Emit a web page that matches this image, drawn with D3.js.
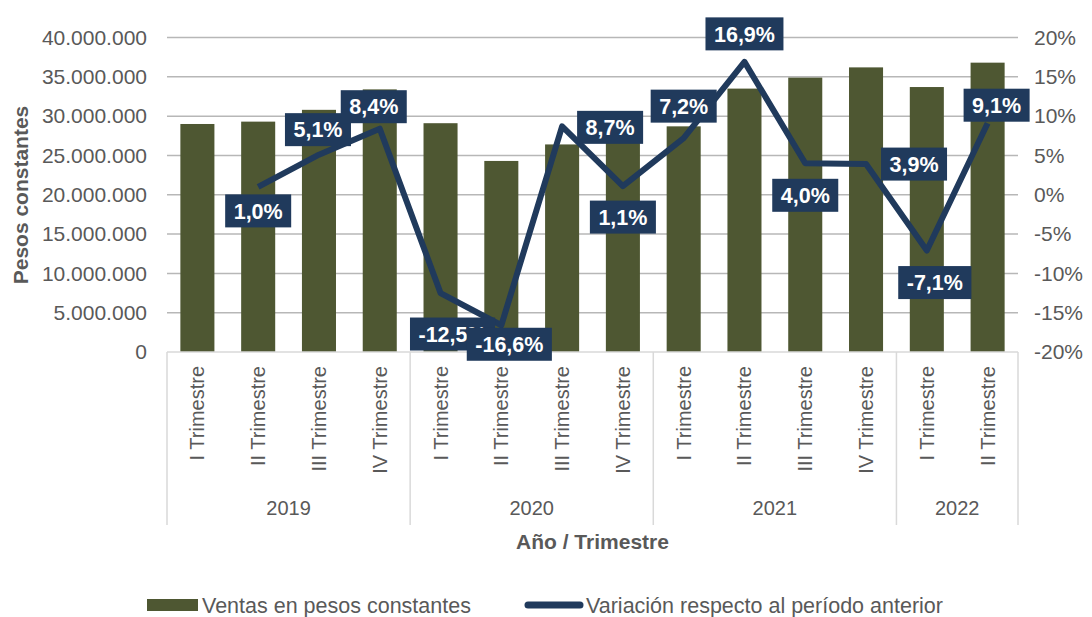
<!DOCTYPE html>
<meta charset="utf-8">
<style>
body { margin: 0; background: #fff; font-family: "Liberation Sans", Arial, Helvetica, sans-serif; }
.grid line { stroke: #b7b7b7; stroke-width: 1.5; }
.tick-label { fill: #595959; font-size: 21px; }
.cat-label { fill: #595959; font-size: 20px; }
.year-label { fill: #595959; font-size: 20px; }
.axis-title { fill: #595959; font-size: 21px; font-weight: bold; }
.legend text { fill: #595959; font-size: 21.5px; }
.dlabel text { fill: #fff; font-size: 21.5px; font-weight: bold; }
</style>
<body>
<script src="https://cdn.jsdelivr.net/npm/d3@7"></script>
<script>

// chart data
var years = ["2019", "2020", "2021", "2022"];
var periodYear = ["2019", "2019", "2019", "2019", "2020", "2020", "2020", "2020",
                  "2021", "2021", "2021", "2021", "2022", "2022"];
var periodQuarter = ["I Trimestre", "II Trimestre", "III Trimestre", "IV Trimestre",
                     "I Trimestre", "II Trimestre", "III Trimestre", "IV Trimestre",
                     "I Trimestre", "II Trimestre", "III Trimestre", "IV Trimestre",
                     "I Trimestre", "II Trimestre"];
var ventas = [29.0e6, 29.3e6, 30.8e6, 33.4e6, 29.1e6, 24.3e6, 26.4e6, 26.7e6,
              28.7e6, 33.5e6, 34.9e6, 36.2e6, 33.7e6, 36.8e6];
var variacion = [null, 1.0, 5.1, 8.4, -12.5, -16.6, 8.7, 1.1, 7.2, 16.9, 4.0, 3.9, -7.1, 9.1];
var leftTicks = [0, 5e6, 10e6, 15e6, 20e6, 25e6, 30e6, 35e6, 40e6];
var rightTicks = [-20, -15, -10, -5, 0, 5, 10, 15, 20];

// where each data label box sits, relative to its point (Excel put them by hand)
var labelOffset = [null, [0, 24], [-1, -25], [-6, -22], [12, 41], [8, 19], [48, 1],
                   [0, 31], [0, -32], [0, -28], [0, 32], [48, 0], [8, 32], [9, -18]];

var width = 1092, height = 617;
var plotLeft = 167, plotRight = 1018, plotTop = 37.5, plotBottom = 352;

var svg = d3.select("body").append("svg")
    .attr("width", width)
    .attr("height", height);

var idx = d3.range(ventas.length);

var x = d3.scaleBand()
    .domain(idx)
    .range([plotLeft, plotRight])
    .paddingInner(0.44)
    .paddingOuter(0.22);

var yLeft = d3.scaleLinear().domain([0, 40e6]).range([plotBottom, plotTop]);
var yRight = d3.scaleLinear().domain([-20, 20]).range([plotBottom, plotTop]);

var fmtLocale = d3.formatLocale({ decimal: ",", thousands: ".", grouping: [3], currency: ["$", ""], minus: "-" });
var fmtMoney = fmtLocale.format(",.0f");
var fmtPct1 = fmtLocale.format(".1f");

// gridlines
svg.append("g").attr("class", "grid")
  .selectAll("line")
  .data(leftTicks.slice(1))
  .enter().append("line")
    .attr("x1", plotLeft).attr("x2", plotRight)
    .attr("y1", function(d) { return yLeft(d); })
    .attr("y2", function(d) { return yLeft(d); });

// left tick labels
svg.append("g")
  .selectAll("text")
  .data(leftTicks)
  .enter().append("text")
    .attr("class", "tick-label")
    .attr("x", 147)
    .attr("y", function(d) { return yLeft(d); })
    .attr("dy", "0.35em")
    .attr("text-anchor", "end")
    .text(function(d) { return fmtMoney(d); });

// right tick labels
svg.append("g")
  .selectAll("text")
  .data(rightTicks)
  .enter().append("text")
    .attr("class", "tick-label")
    .attr("x", 1034)
    .attr("y", function(d) { return yRight(d); })
    .attr("dy", "0.35em")
    .attr("text-anchor", "start")
    .text(function(d) { return d + "%"; });

// bars
svg.append("g")
  .selectAll("rect")
  .data(idx)
  .enter().append("rect")
    .attr("x", function(i) { return x(i); })
    .attr("width", x.bandwidth())
    .attr("y", function(i) { return yLeft(ventas[i]); })
    .attr("height", function(i) { return plotBottom - yLeft(ventas[i]); })
    .attr("fill", "#4e5732");

// category axis: baseline and group separators
var step = x.step();
svg.append("line")
    .attr("x1", plotLeft).attr("x2", plotRight)
    .attr("y1", plotBottom).attr("y2", plotBottom)
    .attr("stroke", "#d9d9d9").attr("stroke-width", 1.5);

var groupEdges = [0];
years.forEach(function(yr) {
  groupEdges.push(groupEdges[groupEdges.length - 1] + periodYear.filter(function(p) { return p === yr; }).length);
});

svg.append("g")
  .selectAll("line")
  .data(groupEdges)
  .enter().append("line")
    .attr("x1", function(k) { return plotLeft + k * step; })
    .attr("x2", function(k) { return plotLeft + k * step; })
    .attr("y1", plotBottom).attr("y2", 525)
    .attr("stroke", "#d9d9d9").attr("stroke-width", 1.5);

// quarter labels (rotated, end of text against the axis)
svg.append("g")
  .selectAll("text")
  .data(idx)
  .enter().append("text")
    .attr("class", "cat-label")
    .attr("text-anchor", "end")
    .attr("transform", function(i) {
      return "translate(" + (x(i) + x.bandwidth() / 2 + 7) + ",366) rotate(-90)";
    })
    .text(function(i) { return periodQuarter[i]; });

// year labels
svg.append("g")
  .selectAll("text")
  .data(years)
  .enter().append("text")
    .attr("class", "year-label")
    .attr("text-anchor", "middle")
    .attr("x", function(d, j) { return plotLeft + (groupEdges[j] + groupEdges[j + 1]) / 2 * step; })
    .attr("y", 515)
    .text(function(d) { return d; });

// axis titles
svg.append("text")
    .attr("class", "axis-title")
    .attr("text-anchor", "middle")
    .attr("transform", "translate(28,195) rotate(-90)")
    .text("Pesos constantes");

svg.append("text")
    .attr("class", "axis-title")
    .attr("text-anchor", "middle")
    .attr("x", (plotLeft + plotRight) / 2)
    .attr("y", 549)
    .text("Año / Trimestre");

// variation line
var lineIdx = idx.filter(function(i) { return variacion[i] !== null; });
var line = d3.line()
    .x(function(i) { return x(i) + x.bandwidth() / 2; })
    .y(function(i) { return yRight(variacion[i]); });

svg.append("path")
    .datum(lineIdx)
    .attr("d", line)
    .attr("fill", "none")
    .attr("stroke", "#203a5c")
    .attr("stroke-width", 6)
    .attr("stroke-linejoin", "round");

// data labels
var labels = svg.append("g")
  .selectAll("g")
  .data(lineIdx)
  .enter().append("g")
    .attr("class", "dlabel")
    .attr("transform", function(i) {
      var cx = x(i) + x.bandwidth() / 2 + labelOffset[i][0];
      var cy = yRight(variacion[i]) + labelOffset[i][1];
      return "translate(" + cx + "," + cy + ")";
    });

labels.append("rect").attr("fill", "#203a5c");
labels.append("text")
    .attr("text-anchor", "middle")
    .attr("dy", "0.36em")
    .text(function(i) { return fmtPct1(variacion[i]) + "%"; });

labels.each(function() {
  var g = d3.select(this);
  var w = g.select("text").node().getComputedTextLength() + 17;
  g.select("rect")
    .attr("x", -w / 2).attr("y", -16.5)
    .attr("width", w).attr("height", 33);
});

// legend
var legend = svg.append("g").attr("class", "legend");
legend.append("rect")
    .attr("x", 147).attr("y", 599)
    .attr("width", 51).attr("height", 12)
    .attr("fill", "#4e5732");
legend.append("text")
    .attr("x", 202).attr("y", 605).attr("dy", "0.35em")
    .text("Ventas en pesos constantes");
legend.append("line")
    .attr("x1", 528).attr("x2", 580)
    .attr("y1", 605).attr("y2", 605)
    .attr("stroke", "#203a5c").attr("stroke-width", 7)
    .attr("stroke-linecap", "round");
legend.append("text")
    .attr("x", 586).attr("y", 605).attr("dy", "0.35em")
    .text("Variación respecto al período anterior");

</script>
</body>
